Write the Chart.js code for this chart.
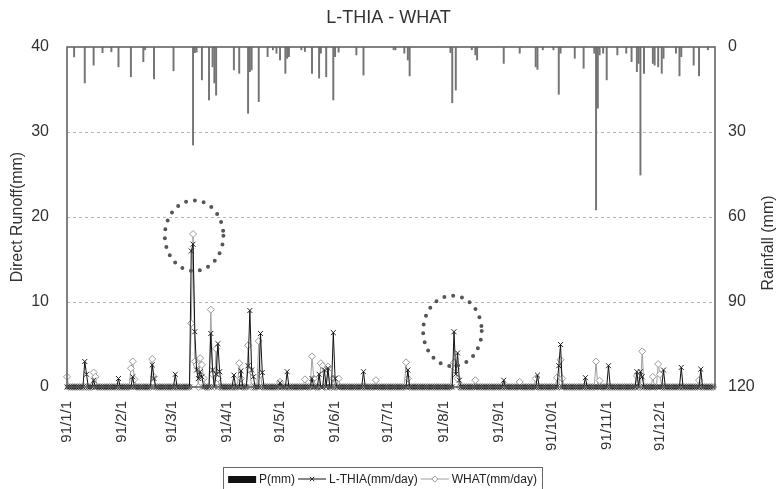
<!DOCTYPE html>
<html>
<head>
<meta charset="utf-8">
<script src="https://cdn.jsdelivr.net/npm/chart.js@4/dist/chart.umd.min.js"></script>
<style>
  html, body { margin: 0; padding: 0; background: #fff; }
  #wrap { width: 777px; height: 489px; }
</style>
</head>
<body>
<div id="wrap"><canvas id="runoff-chart" width="777" height="489"></canvas></div>
<script>
// 1991, one point per day (day 0 = 91/1/1)
const dayCount = 365;
const monthStarts = [0, 31, 59, 90, 120, 151, 181, 212, 243, 273, 304, 334];
const tickLabels = ['91/1/1', '91/2/1', '91/3/1', '91/4/1', '91/5/1', '91/6/1',
    '91/7/1', '91/8/1', '91/9/1', '91/10/1', '91/11/1', '91/12/1'];

// rainfall P(mm), only the rainy days
const rainDays = [4, 10, 15, 20, 25, 29, 36, 43, 44, 49, 60, 71, 72, 73, 76, 80, 82, 83, 84, 94,
    97, 102, 103, 104, 108, 113, 116, 118, 120, 123, 124, 125, 132, 134, 138, 142, 143, 146, 150, 151,
    153, 163, 167, 184, 185, 190, 192, 193, 216, 217, 219, 228, 230, 231, 246, 255, 264, 265, 268, 274,
    277, 278, 286, 291, 297, 298, 299, 300, 302, 304, 310, 315, 318, 321, 322, 323, 325, 330, 331, 333,
    335, 336, 343, 345, 346, 353, 356, 361];
const rainMm = [3.5, 12.7, 6.4, 2, 1.7, 7, 10.5, 5.2, 1, 11.3, 8.4, 34.6, 2, 1.8, 11.6, 18.7, 7, 12.7, 17, 8.1,
    9.3, 23.4, 8.7, 8.1, 19.3, 3.4, 1, 2.2, 4.6, 9.3, 4, 3.4, 1, 1.6, 9.3, 11, 2.2, 10.5, 18.7, 3.4,
    1.8, 2.8, 9.9, 1, 1, 2.2, 4.6, 10.2, 2, 19.7, 15.2, 1, 2.8, 4.6, 5.8, 2.2, 7, 7.9, 1, 1,
    16.7, 2.2, 4, 7.5, 2.2, 57.5, 21.6, 2.8, 2.2, 11.6, 2.8, 2.2, 5.2, 8.7, 5.8, 45.2, 9.3, 5.8, 6.4, 7,
    9.3, 4, 2.2, 10.2, 3.4, 6.4, 10.2, 1];

// L-THIA direct runoff (mm/day), days with runoff
const lthiaDays = [10, 11, 15, 29, 37, 48, 49, 61, 70, 71, 72, 73, 74, 75, 76, 81, 82, 84, 85, 86,
    94, 98, 102, 103, 104, 105, 109, 110, 120, 124, 138, 142, 145, 147, 150, 151, 167, 192, 218, 219,
    220, 221, 246, 265, 277, 278, 292, 305, 321, 323, 324, 336, 346, 357];
const lthiaValues = [3.0, 1.5, 0.8, 1.0, 1.2, 2.6, 1.0, 1.5, 16.0, 16.8, 6.5, 2.0, 1.0, 1.8, 1.2, 6.3, 2.0, 1.5, 5.1, 1.8,
    1.4, 1.9, 2.5, 9.0, 2.0, 1.2, 6.3, 1.7, 0.5, 1.8, 1.0, 1.5, 2.0, 2.2, 6.4, 1.0, 1.8, 2.0, 6.5, 1.5,
    4.0, 0.8, 0.8, 1.4, 2.5, 5.0, 1.1, 2.5, 1.8, 1.8, 1.2, 2.0, 2.3, 2.1];

// WHAT direct runoff (mm/day), days with runoff
const whatDays = [0, 15, 16, 36, 37, 38, 48, 49, 70, 71, 72, 73, 75, 76, 77, 81, 82, 84, 85, 97,
    98, 102, 103, 108, 109, 120, 134, 138, 139, 143, 144, 147, 150, 153, 174, 191, 192, 217, 218, 219,
    220, 230, 255, 264, 276, 278, 279, 298, 300, 321, 324, 330, 333, 334, 356];
const whatValues = [1.2, 1.7, 1.2, 2.2, 3.0, 0.9, 3.3, 1.2, 7.5, 18.0, 3.0, 2.6, 3.4, 2.6, 1.0, 9.1, 1.5, 4.5, 1.0, 2.8,
    1.0, 4.9, 2.0, 5.4, 1.5, 0.6, 0.9, 3.6, 1.0, 2.8, 2.5, 2.4, 1.0, 1.0, 0.8, 2.9, 1.0, 2.5, 2.9, 2.2,
    1.0, 0.8, 0.6, 1.0, 1.1, 3.2, 1.0, 3.0, 0.75, 1.3, 4.2, 1.2, 2.7, 1.5, 0.8];

// the two dotted circles: centre day / runoff, half width in days, half height in mm
const circleDays = [71.6, 217.1];
const circleValues = [17.8, 6.6];
const circleHalfDays = 16.5;
const circleHalfMm = 4.15;

function dailySeries(days, values) {
    const series = [];
    for (let d = 0; d < dayCount; d++) {
        const i = days.indexOf(d);
        series.push({ x: d, y: i >= 0 ? values[i] : 0 });
    }
    return series;
}

Chart.defaults.font.family = '"Liberation Sans", Arial, sans-serif';
Chart.defaults.color = '#333';

const textColor = '#333';

// dotted circles round the peaks
const circlesPlugin = {
    id: 'circles',
    afterDatasetsDraw(chart) {
        const { ctx, scales: { x, y } } = chart;
        ctx.save();
        ctx.strokeStyle = '#555';
        ctx.lineWidth = 4;
        ctx.lineCap = 'round';
        ctx.setLineDash([0, 9]);
        circleDays.forEach((day, i) => {
            const cx = x.getPixelForValue(day);
            const cy = y.getPixelForValue(circleValues[i]);
            const rx = x.getPixelForValue(day + circleHalfDays) - cx;
            const ry = cy - y.getPixelForValue(circleValues[i] + circleHalfMm);
            ctx.beginPath();
            ctx.ellipse(cx, cy, rx, ry, 0, 0, Math.PI * 2);
            ctx.stroke();
        });
        ctx.restore();
    }
};

// frame, right axis title and the boxed legend
const framePlugin = {
    id: 'frame',
    afterDraw(chart) {
        const { ctx, chartArea } = chart;
        ctx.save();
        ctx.strokeStyle = '#5a5a5a';
        ctx.lineWidth = 1.5;
        ctx.strokeRect(chartArea.left, chartArea.top, chartArea.right - chartArea.left, chartArea.bottom - chartArea.top);

        // right title reads bottom to top like the left one
        ctx.fillStyle = textColor;
        ctx.font = '16px "Liberation Sans", Arial, sans-serif';
        ctx.textAlign = 'center';
        ctx.textBaseline = 'middle';
        ctx.translate(chart.width - 8, (chartArea.top + chartArea.bottom) / 2 + 26);
        ctx.rotate(-Math.PI / 2);
        ctx.fillText('Rainfall (mm)', 0, 0);
        ctx.restore();

        // legend
        ctx.save();
        ctx.font = '12px "Liberation Sans", Arial, sans-serif';
        ctx.textBaseline = 'middle';
        ctx.textAlign = 'left';
        const sets = chart.data.datasets;
        const swatch = 28, gap = 3, pad = 5;
        let total = pad * 2;
        sets.forEach((ds, i) => {
            total += swatch + gap + ctx.measureText(ds.label).width + (i < sets.length - 1 ? gap : 0);
        });
        let lx = (chart.width - total) / 2 - 6;
        const ly = 479;
        ctx.strokeStyle = '#666';
        ctx.lineWidth = 1;
        ctx.strokeRect(Math.round(lx) + 0.5, 467.5, Math.round(total), 30);
        lx += pad;
        sets.forEach(ds => {
            if (ds.type === 'bar') {
                ctx.fillStyle = '#111';
                ctx.fillRect(lx, ly - 3, swatch, 7);
            } else {
                ctx.strokeStyle = ds.borderColor;
                ctx.lineWidth = 1;
                ctx.beginPath();
                ctx.moveTo(lx, ly);
                ctx.lineTo(lx + swatch, ly);
                ctx.stroke();
                ctx.fillStyle = ds.pointBackgroundColor;
                ctx.strokeStyle = ds.pointBorderColor;
                Chart.helpers.drawPoint(ctx, {
                    pointStyle: ds.pointStyle, radius: 3, borderWidth: 1, rotation: 0
                }, lx + swatch / 2, ly);
            }
            lx += swatch + gap;
            ctx.fillStyle = '#222';
            ctx.fillText(ds.label, lx, ly + 1);
            lx += ctx.measureText(ds.label).width + gap;
        });
        ctx.restore();
    }
};

const runoffCtx = document.getElementById('runoff-chart').getContext('2d');

const runoffChart = new Chart(runoffCtx, {
    data: {
        datasets: [
            {
                type: 'bar',
                label: 'P(mm)',
                data: rainDays.map((d, i) => ({ x: d, y: rainMm[i] })),
                yAxisID: 'y2',
                backgroundColor: '#747474',
                barThickness: 1.3,
                order: 3
            },
            {
                type: 'line',
                label: 'L-THIA(mm/day)',
                data: dailySeries(lthiaDays, lthiaValues),
                yAxisID: 'y',
                borderColor: '#111',
                borderWidth: 1,
                pointStyle: 'crossRot',
                pointRadius: 3.5,
                pointBorderWidth: 1,
                pointBorderColor: '#222',
                pointBackgroundColor: '#222',
                tension: 0,
                clip: 6,
                order: 1
            },
            {
                type: 'line',
                label: 'WHAT(mm/day)',
                data: dailySeries(whatDays, whatValues),
                yAxisID: 'y',
                borderColor: '#a0a0a0',
                borderWidth: 1,
                pointStyle: 'rectRot',
                pointRadius: 3.5,
                pointBorderWidth: 1,
                pointBorderColor: '#999',
                pointBackgroundColor: '#fff',
                tension: 0,
                clip: 6,
                order: 2
            }
        ]
    },
    options: {
        responsive: false,
        animation: false,
        events: [],
        layout: { padding: 0 },
        plugins: {
            legend: { display: false },
            tooltip: { enabled: false },
            title: {
                display: true,
                text: 'L-THIA - WHAT',
                color: textColor,
                font: { size: 18, weight: 'normal' },
                padding: { top: 7, bottom: 18.4 }
            }
        },
        scales: {
            x: {
                type: 'linear',
                offset: false,
                min: 0,
                max: dayCount,
                afterBuildTicks: scale => {
                    scale.ticks = monthStarts.map(v => ({ value: v }));
                },
                afterFit: scale => { scale.height = 102; },
                ticks: {
                    autoSkip: false,
                    minRotation: 90,
                    maxRotation: 90,
                    padding: 6,
                    color: textColor,
                    font: { size: 15 },
                    callback: (value, index) => tickLabels[index]
                },
                grid: { display: false, offset: false },
                border: { display: false }
            },
            y: {
                position: 'left',
                min: 0,
                max: 40,
                afterFit: scale => { scale.width = 67; },
                ticks: {
                    stepSize: 10,
                    padding: 18,
                    color: textColor,
                    font: { size: 16 }
                },
                grid: {
                    drawTicks: false,
                    color: c => (c.tick.value === 0 || c.tick.value === 40) ? 'rgba(0,0,0,0)' : '#b5b5b5'
                },
                border: { display: false, dash: [3, 3] },
                title: {
                    display: true,
                    text: 'Direct Runoff(mm)',
                    color: textColor,
                    font: { size: 16 },
                    padding: { top: 8, bottom: 0 }
                }
            },
            y2: {
                position: 'right',
                reverse: true,
                min: 0,
                max: 120,
                afterFit: scale => { scale.width = 62; },
                ticks: {
                    stepSize: 30,
                    padding: 13,
                    color: textColor,
                    font: { size: 16 }
                },
                grid: { drawOnChartArea: false, drawTicks: false },
                border: { display: false }
            }
        }
    },
    plugins: [circlesPlugin, framePlugin]
});
</script>
</body>
</html>
